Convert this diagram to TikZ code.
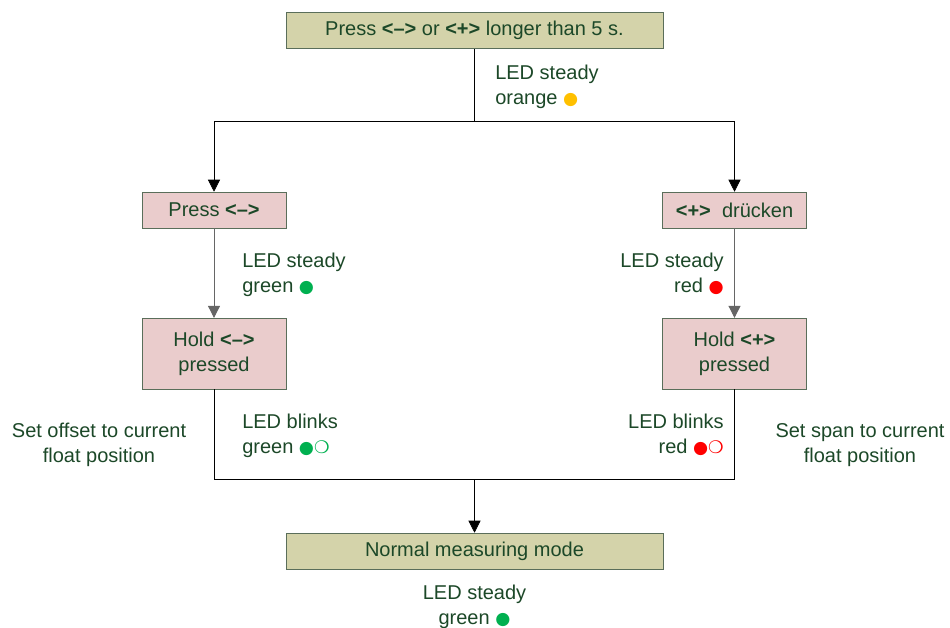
\documentclass[tikz,border=0pt]{standalone}
\usepackage{fontspec}
\setmainfont{Liberation Sans}
\newfontfamily\symfont{DejaVu Sans}
\usetikzlibrary{arrows.meta, positioning, calc}
\definecolor{textgreen}{RGB}{28,72,40}
\definecolor{boxline}{RGB}{90,110,90}
\definecolor{olivefill}{RGB}{212,211,170}
\definecolor{pinkfill}{RGB}{234,204,204}
\definecolor{ledorange}{RGB}{255,192,0}
\definecolor{ledgreen}{RGB}{0,176,80}
\definecolor{ledred}{RGB}{255,0,0}
\newcommand{\ledon}[1]{{\symfont\fontsize{13}{13}\selectfont\textcolor{#1}{●}}}
\newcommand{\ledoff}[1]{{\symfont\fontsize{13}{13}\selectfont\textcolor{#1}{❍}}}

\begin{document}
\begin{tikzpicture}[x=0.75pt, y=-0.75pt,
    every node/.style={font=\fontsize{15}{18.75}\selectfont, text=textgreen},
    wide/.style={rectangle, draw=boxline, fill=olivefill, minimum width=283pt, minimum height=27pt},
    keybox/.style={rectangle, draw=boxline, fill=pinkfill, minimum width=108pt, minimum height=27pt, align=center},
    holdbox/.style={keybox, minimum height=53pt},
    note/.style={align=left, inner sep=0pt},
    arrow/.style={-{Triangle[length=9pt, width=9pt]}, black}
]
    \useasboundingbox (0,0) rectangle (950,628);

    \node[wide]    (start)  at (474.5, 30.5) {Press \textbf{<–>} or \textbf{<+>} longer than 5 s.};
    \node[keybox]  (pminus) at (214, 210)    {Press \textbf{<–>}};
    \node[keybox]  (pplus)  at (734.5, 210)  {\textbf{<+>}\ \ drücken};
    \node[holdbox] (hminus) at (214, 353.5)  {Hold \textbf{<–>}\\pressed};
    \node[holdbox] (hplus)  at (734.5, 353.5){Hold \textbf{<+>}\\pressed};
    \node[wide]    (normal) at (474.5, 551)  {Normal measuring mode};

    % junctions
    \coordinate (split) at (474.5, 121);
    \coordinate (merge) at (474.5, 479);

    \draw (start) -- (split);
    \draw[arrow] (split) -| (pminus);
    \draw[arrow] (split) -| (pplus);
    \draw[arrow, draw=gray!80!black] (pminus) -- (hminus);
    \draw[arrow, draw=gray!80!black] (pplus) -- (hplus);
    \draw (hminus) |- (merge);
    \draw (hplus) |- (merge);
    \draw[arrow] (merge) -- (normal);

    % LED states
    \node[note, anchor=base west] (ledo)  at (495, 104)  {LED steady\\orange \ledon{ledorange}};
    \node[note, anchor=base west] (ledg)  at (242, 292) {LED steady\\green \ledon{ledgreen}};
    \node[note, anchor=base east, align=right] (ledr) at (724, 292) {LED steady\\red \ledon{ledred}};
    \node[note, anchor=base west] (blg)   at (242, 453) {LED blinks\\green \ledon{ledgreen}\ledoff{ledgreen}};
    \node[note, anchor=base east, align=right] (blr) at (724, 453) {LED blinks\\red \ledon{ledred}\ledoff{ledred}};
    \node[note, anchor=base, align=center] (ledn) at (474.5, 624) {LED steady\\green \ledon{ledgreen}};

    % actions
    \node[note, anchor=base, align=center] (offs) at (99, 462)  {Set offset to current\\float position};
    \node[note, anchor=base, align=center] (span) at (860, 462) {Set span to current\\float position};
\end{tikzpicture}
\end{document}
